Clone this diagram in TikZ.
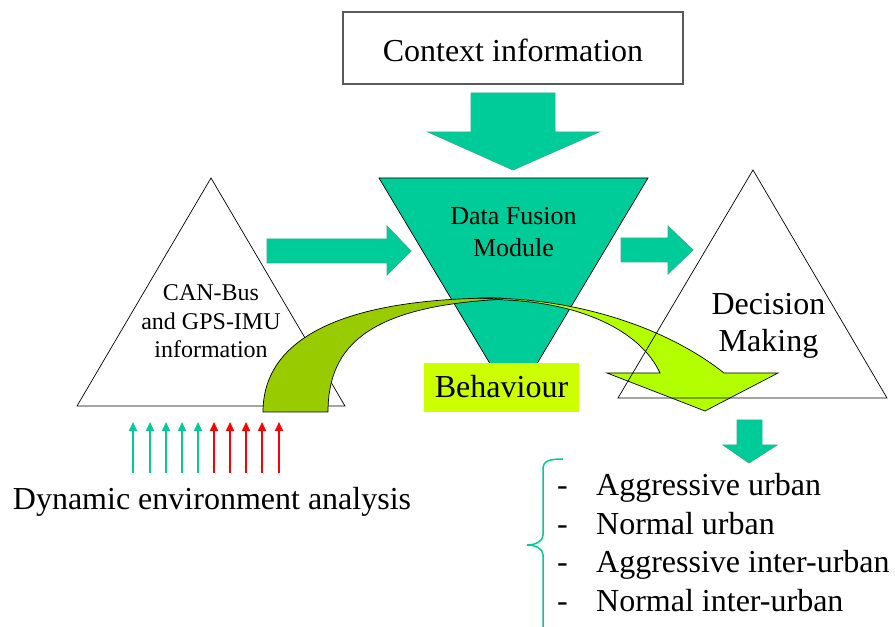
\documentclass[tikz,border=0pt]{standalone}
\usepackage{fontspec}
\setmainfont{Liberation Serif}
\usetikzlibrary{arrows.meta}
\definecolor{tealA}{HTML}{00CC99}
\definecolor{tealEdge}{HTML}{2DB38C}
\definecolor{dkGreen}{HTML}{99CC00}
\definecolor{ltGreen}{HTML}{B3FF00}
\definecolor{boxGreen}{HTML}{CCFF00}
\definecolor{redA}{HTML}{FF0000}
\begin{document}
\begin{tikzpicture}[x=1pt,y=1pt,line join=miter,
  blockarrow/.style={fill=tealA,draw=tealEdge,line width=0.8pt},
  tri/.style={draw=black,line width=0.7pt},
  curvy/.style={draw=black,line width=0.7pt},
  tbig/.style={font=\fontsize{32}{38}\selectfont,inner sep=0pt,anchor=base},
  tmid/.style={font=\fontsize{26}{31}\selectfont,inner sep=0pt,anchor=base},
  tsmall/.style={font=\fontsize{24}{29}\selectfont,inner sep=0pt,anchor=base},
  tlist/.style={font=\fontsize{32}{38}\selectfont,inner sep=0pt,anchor=base west},
  smallup/.style={line width=2pt,-{Triangle[length=9pt,width=8pt]}}]
\useasboundingbox (0,0) rectangle (895,627);

% Context box
\draw[draw=black!65,line width=1.2pt] (343,543) rectangle (683,615);
\node[tbig] (ctx) at (513,565) {Context information};

% big down arrow
\draw[blockarrow] (471,534) -- (555,534) -- (555,495) -- (599,495) -- (513,457) -- (428,495) -- (471,495) -- cycle;

% fusion funnel
\draw[tri,fill=tealA] (379,449) -- (648,449) -- (513.5,224) -- cycle;
\node[tmid] (df1) at (513.5,402) {Data Fusion};
\node[tmid] (df2) at (513.5,370) {Module};

% right-pointing arrows
\draw[blockarrow] (267,364) -- (387,364) -- (387,352) -- (411,376) -- (387,401) -- (387,388) -- (267,388) -- cycle;
\draw[blockarrow] (621,365) -- (668,365) -- (668,353) -- (693,377) -- (668,401) -- (668,389) -- (621,389) -- cycle;

% left triangle
\draw[tri,fill=white] (77,221) -- (345,221) -- (211,449) -- cycle;
\node[tsmall] (cb1) at (211,326) {CAN-Bus};
\node[tsmall] (cb2) at (211,297) {and GPS-IMU};
\node[tsmall] (cb3) at (211,269) {information};

% curved arrow
\draw[curvy,fill=dkGreen] (263,215) .. controls (263,292) and (350,329) .. (500,329)
  -- (508,328) .. controls (370,322) and (328,282) .. (328,215) -- cycle;
\draw[curvy,fill=ltGreen] (478,329) .. controls (580,330) and (670,297) .. (724,254)
  -- (778,254) -- (705,216) -- (607,254) -- (660,254)
  .. controls (640,297) and (580,324) .. (505,327) -- cycle;

% Behaviour box
\fill[boxGreen] (424,215) rectangle (579,264);
\node[tbig] (beh) at (501.5,229) {Behaviour};

% right triangle
\draw[tri] (618,229) -- (887,229) -- (753,457) -- cycle;
\node[tbig] (dm1) at (768.5,312) {Decision};
\node[tbig] (dm2) at (768.5,275) {Making};

% small down arrow
\draw[blockarrow] (737,207) -- (762,207) -- (762,182) -- (777,182) -- (749,164) -- (723,182) -- (737,182) -- cycle;

% small up arrows
\foreach \x in {133,150,166,182,198} \draw[smallup,tealA] (\x,154) -- (\x,205);
\foreach \x in {214,230,246,262,279} \draw[smallup,redA] (\x,154) -- (\x,205);
\node[tbig] (dyn) at (212,117) {Dynamic environment analysis};

% brace
\draw[tealA,line width=1.5pt] (563,168) .. controls (549,168) and (543,166) .. (543,158)
  -- (543,92) .. controls (543,86) and (536,82) .. (527,82)
  .. controls (536,82) and (543,78) .. (543,72) -- (543,0);

% list
\foreach \yy/\t [count=\i] in {131/Aggressive urban,92.5/Normal urban,54/Aggressive inter-urban,15.5/Normal inter-urban}{
  \node[tlist] (d\i) at (557,\yy) {-};
  \node[tlist] (l\i) at (596,\yy) {\t};
}
\end{tikzpicture}
\end{document}
